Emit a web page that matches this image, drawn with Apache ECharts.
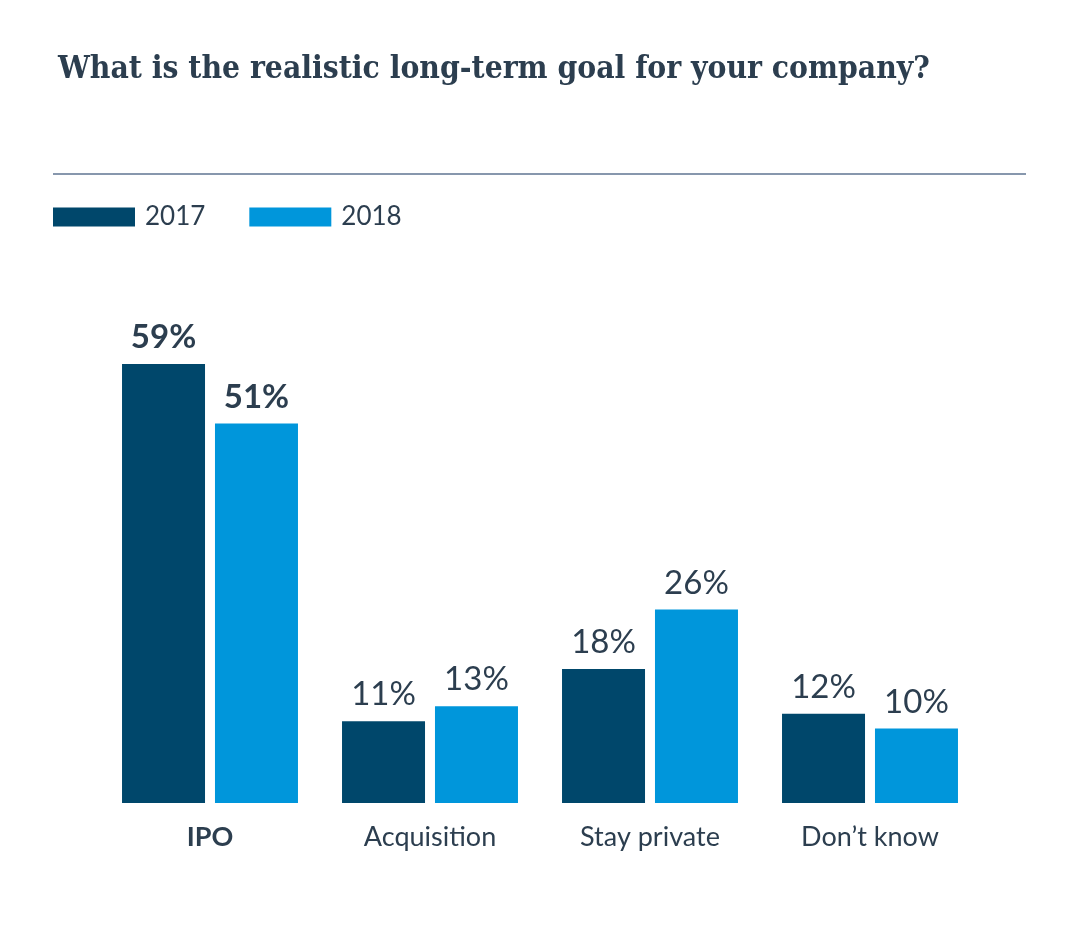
<!DOCTYPE html>
<html><head><meta charset="utf-8">
<script src="https://cdn.jsdelivr.net/npm/echarts@6/dist/echarts.min.js"></script>
<style>html,body{margin:0;padding:0;background:#fff}#c{width:1080px;height:926px}</style>
</head><body><div id="c"></div>
<script>
const categories = ['IPO', 'Acquisition', 'Stay private', 'Don’t know'];
const values2017 = [59, 11, 18, 12];
const values2018 = [51, 13, 26, 10];
const seriesNames = ['2017', '2018'];
const titleText = 'What is the realistic long-term goal for your company?';

const chart = echarts.init(document.getElementById('c'));
const textColor = '#2c3e4f';
function lbl() {
  return {
    show: true, position: 'top', distance: 10,
    fontFamily: 'Lato', fontSize: 33, color: textColor,
    formatter: p => p.value + '%'
  };
}
function mkData(vals) {
  return vals.map((v, i) => ({
    value: v,
    label: i === 0 ? { fontWeight: 'bold' } : { fontWeight: 'normal' }
  }));
}
chart.setOption({
  animation: false,
  title: {
    text: titleText, left: 53, top: 49,
    textStyle: { fontFamily: 'DejaVu Serif Condensed, DejaVu Serif', fontWeight: 'bold', fontSize: 31.5, color: textColor }
  },
  graphic: [{
    type: 'line', shape: { x1: 53, y1: 174, x2: 1026, y2: 174 },
    style: { stroke: '#8797ad', lineWidth: 2 }
  }],
  legend: {
    left: 53, top: 204, padding: 0, itemWidth: 82, itemHeight: 19, itemGap: 44,
    icon: 'rect',
    textStyle: { fontFamily: 'Lato', fontSize: 26, color: textColor, padding: [0, 0, 0, 5] },
    data: seriesNames
  },
  grid: { left: 100, right: 100, top: 356.6, bottom: 123 },
  xAxis: {
    type: 'category', data: categories,
    axisLine: { show: false }, axisTick: { show: false },
    axisLabel: {
      margin: 21, fontFamily: 'Lato', fontSize: 27, color: textColor,
      formatter: (v, i) => i === 0 ? '{b|' + v + '}' : v,
      rich: { b: { fontFamily: 'Lato', fontSize: 27, fontWeight: 'bold', color: textColor } }
    }
  },
  yAxis: { type: 'value', min: 0, max: 60, show: false, splitLine: { show: false } },
  series: [
    { name: seriesNames[0], type: 'bar', data: mkData(values2017), barWidth: 83, barGap: '12%',
      itemStyle: { color: '#00476b' }, label: lbl() },
    { name: seriesNames[1], type: 'bar', data: mkData(values2018), barWidth: 83, barGap: '12%',
      itemStyle: { color: '#0096db' }, label: lbl() }
  ]
});
</script></body></html>
